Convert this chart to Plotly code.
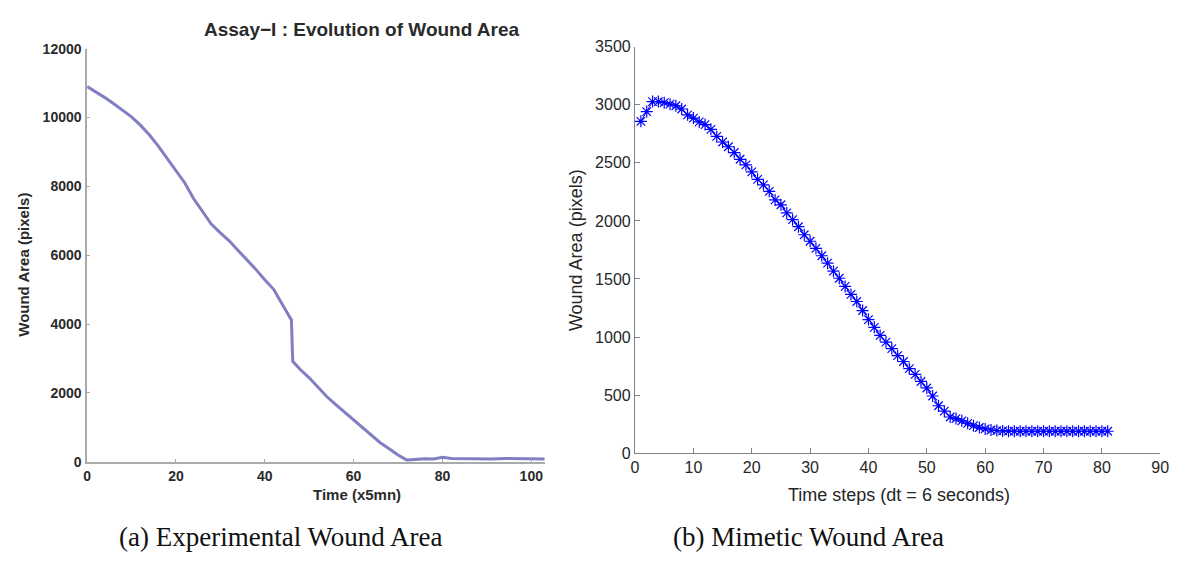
import plotly.graph_objects as go

# ---- Data: (a) Experimental wound area ----
exp_time = [0, 2, 4, 6, 8, 10, 12, 14, 16, 18, 20, 22, 24, 26, 28, 30, 32, 34, 36, 38,
            40, 42, 44, 45.5, 46, 46.3, 48, 50, 52, 54, 56, 58, 60, 62, 64, 66, 68, 70,
            72, 74, 76, 78, 80, 82, 85, 88, 91, 94, 97, 100, 103]
exp_area = [10900, 10750, 10580, 10400, 10200, 10020, 9780, 9500, 9180, 8820, 8460,
            8100, 7640, 7260, 6900, 6650, 6420, 6140, 5870, 5590, 5290, 5010, 4560,
            4260, 4120, 2920, 2680, 2440, 2160, 1890, 1660, 1440, 1210, 990, 770, 555,
            380, 200, 50, 70, 90, 80, 130, 100, 90, 70, 80, 100, 90, 70, 80]
exp_xticks = [0, 20, 40, 60, 80, 100]
exp_yticks = [0, 2000, 4000, 6000, 8000, 10000, 12000]

# ---- Data: (b) Mimetic wound area ----
sim_steps = list(range(1, 82))
sim_area = [2858, 2942, 3028, 3028, 3019, 3006, 2992, 2964, 2914, 2886,
            2853, 2830, 2789, 2728, 2680, 2639, 2589, 2531, 2483, 2422,
            2358, 2311, 2255, 2181, 2139, 2069, 2011, 1950, 1881, 1825,
            1764, 1700, 1636, 1567, 1506, 1436, 1367, 1306, 1228, 1150,
            1083, 1014, 956, 900, 839, 789, 728, 678, 617, 561,
            492, 408, 361, 311, 297, 278, 256, 236, 220, 208,
            199, 194, 191, 189, 188, 188, 188, 188, 188, 188,
            188, 188, 188, 188, 188, 188, 188, 188, 188, 188, 188]
sim_xticks = list(range(0, 91, 10))
sim_yticks = list(range(0, 3501, 500))

left_title = "Assay\u2212I : Evolution of Wound Area"
W, H = 1191, 561

def px_x(p):
    return p / W

def px_y(p):
    return 1 - p / H

fig = go.Figure()

fig.add_trace(go.Scatter(
    x=exp_time, y=exp_area, mode="lines",
    line=dict(color="#6c69b8", width=3),
    opacity=0.85, xaxis="x", yaxis="y", showlegend=False, hoverinfo="skip"))

fig.add_trace(go.Scatter(
    x=sim_steps, y=sim_area, mode="lines+markers",
    line=dict(color="#0000ff", width=1),
    marker=dict(symbol="asterisk-open", size=10, color="#0000ff",
                line=dict(color="#0000ff", width=1.2)),
    xaxis="x2", yaxis="y2", showlegend=False))

left_font = dict(family="Liberation Sans, Arial", size=14, color="#2a2a2a")
right_font = dict(family="Liberation Sans, Arial", size=16, color="#262626")

fig.update_layout(
    width=W, height=H,
    margin=dict(l=0, r=0, t=0, b=0),
    paper_bgcolor="white", plot_bgcolor="white",
    xaxis=dict(domain=[px_x(84), px_x(547)], range=[0, 103.1], anchor="y",
               tickvals=exp_xticks, ticktext=["<b>%d</b>" % v for v in exp_xticks],
               ticks="inside", ticklen=3,
               tickcolor="#aaaaaa", showline=True, linecolor="#aaaaaa", linewidth=1.5,
               showgrid=False, zeroline=False, tickfont=left_font,
               ticklabelstandoff=1),
    xaxis3=dict(overlaying="x", side="top", anchor="y", range=[0, 103.1],
                tickvals=exp_xticks, ticks="inside", ticklen=3,
                tickcolor="#bbbbbb", showline=True, linecolor="#aaaaaa", linewidth=1.5,
                showgrid=False, zeroline=False, showticklabels=False),
    yaxis=dict(domain=[px_y(468), px_y(42)], range=[0, 12000], anchor="x",
               tickvals=exp_yticks, ticktext=["<b>%d</b>" % v for v in exp_yticks],
               ticks="inside",
               ticklen=3, tickcolor="#aaaaaa", showline=True, linecolor="#aaaaaa",
               linewidth=1.5, showgrid=False, zeroline=False, tickfont=left_font,
               ticklabelstandoff=1),
    xaxis2=dict(domain=[px_x(638), px_x(1169)], range=[0, 90], anchor="y2",
                tickvals=sim_xticks, ticks="inside", ticklen=5,
                tickcolor="#808080", showline=True, linecolor="#808080", linewidth=1.3,
                showgrid=False, zeroline=False, tickfont=right_font),
    yaxis2=dict(domain=[px_y(459), px_y(40)], range=[0, 3500], anchor="x2",
                tickvals=sim_yticks, ticks="inside", ticklen=5,
                tickcolor="#808080", showline=True, linecolor="#808080", linewidth=1.3,
                showgrid=False, zeroline=False, tickfont=right_font),
)

ann = [
    dict(text="<b>" + left_title + "</b>", x=px_x(362), y=px_y(22),
         font=dict(family="Liberation Sans, Arial", size=19, color="#2a2a2a")),
    dict(text="<b>Time (x5mn)</b>", x=px_x(357), y=px_y(502),
         font=dict(family="Liberation Sans, Arial", size=15, color="#2a2a2a")),
    dict(text="<b>Wound Area (pixels)</b>", x=px_x(20), y=px_y(265), textangle=-90,
         font=dict(family="Liberation Sans, Arial", size=15, color="#2a2a2a")),
    dict(text="Time steps (dt = 6 seconds)", x=px_x(905), y=px_y(502),
         font=dict(family="Liberation Sans, Arial", size=18, color="#262626")),
    dict(text="Wound Area (pixels)", x=px_x(579), y=px_y(250), textangle=-90,
         font=dict(family="Liberation Sans, Arial", size=18, color="#262626")),
    dict(text="(a) Experimental Wound Area", x=px_x(280), y=px_y(546),
         font=dict(family="Liberation Serif, DejaVu Serif", size=27, color="#111111")),
    dict(text="(b) Mimetic Wound Area", x=px_x(813), y=px_y(546),
         font=dict(family="Liberation Serif, DejaVu Serif", size=27, color="#111111")),
]
for a in ann:
    a.update(xref="paper", yref="paper", showarrow=False,
             xanchor="center", yanchor="middle")
    fig.add_annotation(**a)

fig.write_html("out.html")
